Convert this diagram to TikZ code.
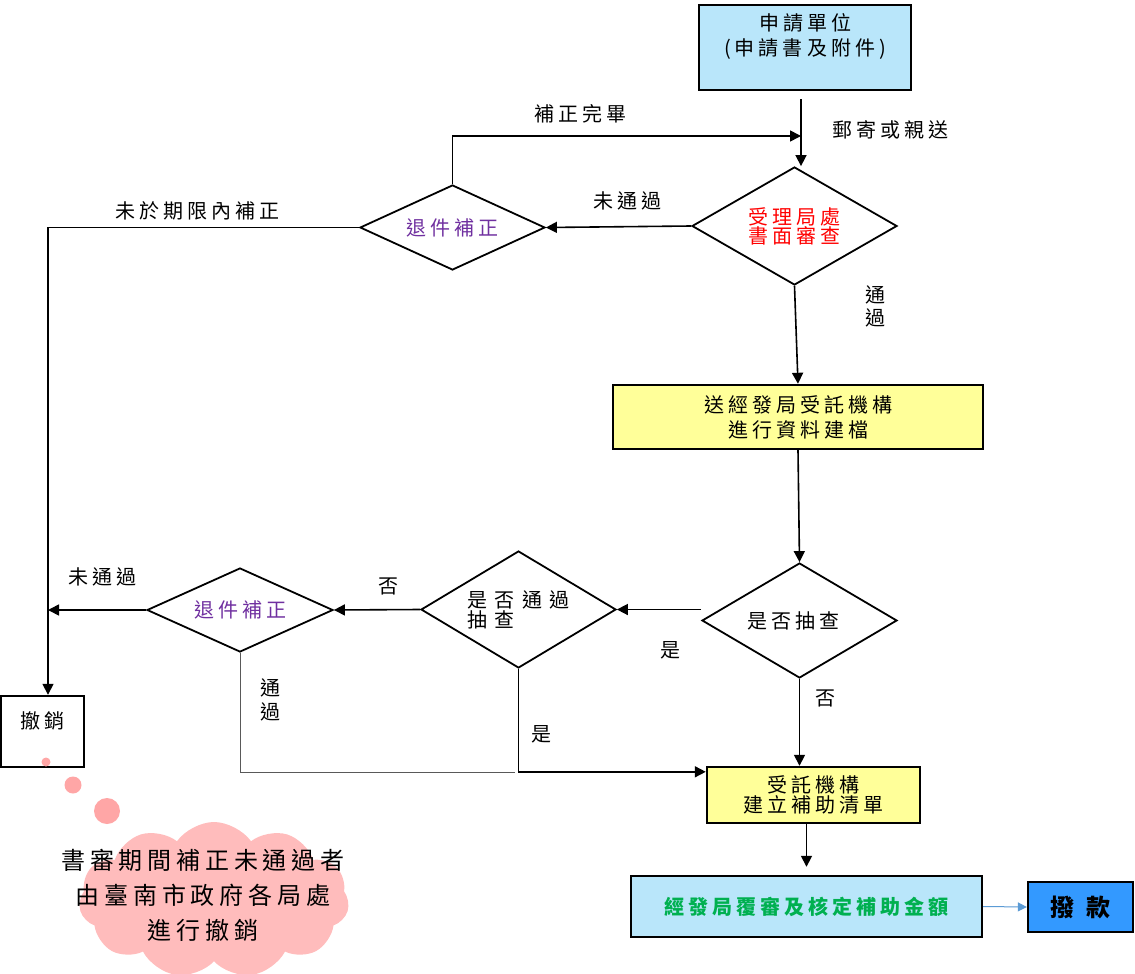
\documentclass[tikz,border=0pt]{standalone}
\usepackage{fontspec}
\usetikzlibrary{shapes.geometric,shapes.symbols,arrows.meta,calc}
\newfontfamily\cjk[LetterSpace=20]{Noto Sans CJK TC}
\definecolor{lblue}{HTML}{B9E6FA}
\definecolor{lyellow}{HTML}{FFFF99}
\definecolor{dblue}{HTML}{3399FF}
\definecolor{purp}{HTML}{7030A0}
\definecolor{grn}{HTML}{00B050}
\definecolor{cloudpink}{HTML}{FFBCBC}
\definecolor{dotpink}{HTML}{FFA6A6}
\definecolor{arrblue}{HTML}{5B9BD5}
\begin{document}
\begin{tikzpicture}[x=1pt,y=-1pt,
  base/.style={font=\cjk\fontsize{20}{25}\selectfont, inner sep=0pt},
  box/.style={base, draw, line width=2.4pt, align=center},
  dia/.style={base, diamond, draw, line width=1.8pt, align=center, shape aspect=2.4},
  lbl/.style={base, align=center},
  ln/.style={line width=1.6pt},
  arr/.style={line width=1.6pt, -{Triangle[length=11pt,width=11pt]}}]
\fill[white] (0,0) rectangle (1135,974);
\useasboundingbox (0,0) rectangle (1135,974);

% boxes
\node[box, fill=lblue, minimum width=212pt, minimum height=85pt] (b1) at (805,47.5) {申請單位\\(申請書及附件)\\\mbox{}};
\node[box, fill=lyellow, minimum width=370pt, minimum height=64pt] (b2) at (798,417) {送經發局受託機構\\進行資料建檔};
\node[box, fill=lyellow, minimum width=213pt, minimum height=56pt, font=\cjk\fontsize{20}{20}\selectfont] (b3) at (813.5,795) {受託機構\\建立補助清單};
\node[box, fill=lblue, minimum width=351pt, minimum height=61pt, text=grn, font=\cjk\fontsize{20}{25}\selectfont\bfseries] (b4) at (806.5,906.5) {經發局覆審及核定補助金額};
\node[box, fill=dblue, minimum width=105pt, minimum height=50pt, font=\cjk\fontsize{24}{25}\selectfont\bfseries] (b5) at (1080.5,907) {撥\hspace{12pt}款};
\node[box, fill=white, minimum width=83pt, minimum height=71pt, font=\cjk\fontsize{20}{23}\selectfont] (b6) at (42.5,731.5) {撤銷\\\mbox{}};

% diamonds
\node[dia, text=red, minimum width=205pt, minimum height=118pt, font=\cjk\fontsize{20}{19}\selectfont] (d1) at (794.5,226) {受理局處\\書面審查};
\node[dia, text=purp, minimum width=185pt, minimum height=85pt] (d2) at (452.5,227.5) {退件補正};
\node[dia, minimum width=195pt, minimum height=115pt] (d3) at (799.5,620.5) {是否抽查\hspace{12pt}};
\node[dia, minimum width=193pt, minimum height=117pt, align=left, font=\cjk\fontsize{20}{20}\selectfont\addfontfeature{LetterSpace=38}] (d4) at (518.5,609.5) {是否通過\\抽查};
\node[dia, text=purp, minimum width=186pt, minimum height=84pt] (d5) at (240,610) {退件補正};

% cloud and thought dots
\node[cloud, cloud puffs=11, cloud puff arc=110, aspect=1.8, fill=cloudpink, minimum width=270pt, minimum height=156pt] (cl) at (214,900) {};
\fill[dotpink] (46,762) circle (4.5);
\fill[dotpink] (73,785) circle (8.5);
\fill[dotpink] (107,811) circle (13);
\node[lbl, font=\cjk\fontsize{24}{35}\selectfont] (clt) at (203,895) {書審期間補正未通過者\\由臺南市政府各局處\\進行撤銷};

% coordinates
\coordinate (m1) at (801,136);
\coordinate (c1) at (48,227.5);
\coordinate (c2) at (515,772);

% connectors
\draw[arr, shorten <=8pt] ([xshift=-4pt]b1.south) -- ([xshift=-4pt]b1.south |- d1.north);
\draw[arr] (d2.north) |- (m1);
\draw[arr] (d1.west) -- (d2.east);
\draw[arr] (d2.west) -- (c1) -- (c1 |- b6.north);
\draw[arr] (d1.south) -- (b2.north);
\draw[arr] (b2.south) -- (d3.north);
\draw[arr] (d3.west |- d4.east) -- (d4.east);
\draw[arr] (d4.west) -- (d5.east);
\draw[arr] (d5.west) -- (c1 |- d5.west);
\draw[line width=1pt, black!65] (d5.south) |- (c2);
\draw[arr] (d4.south) |- ($(b3.north west)+(0,6)$);
\draw[arr] (d3.south) -- (d3.south |- b3.north);
\draw[arr, shorten >=8pt] (b4.north |- b3.south) -- (b4.north);
\draw[line width=1pt, arrblue, -{Triangle[length=9pt,width=9pt]}] (b4.east) -- (b5.west);

% labels
\node[lbl] (l1) at (890,130) {郵寄或親送};
\node[lbl] (l2) at (580,114) {補正完畢};
\node[lbl] (l3) at (627,201) {未通過};
\node[lbl] (l4) at (197,211) {未於期限內補正};
\node[lbl, font=\cjk\fontsize{20}{23}\selectfont] (l5) at (875,306) {通\\過};
\node[lbl] (l6) at (670,650) {是};
\node[lbl] (l7) at (388,586) {否};
\node[lbl] (l8) at (102,577) {未通過};
\node[lbl, font=\cjk\fontsize{20}{24}\selectfont] (l9) at (270,700) {通\\過};
\node[lbl] (l10) at (541,734) {是};
\node[lbl] (l11) at (825,698) {否};
\end{tikzpicture}
\end{document}
